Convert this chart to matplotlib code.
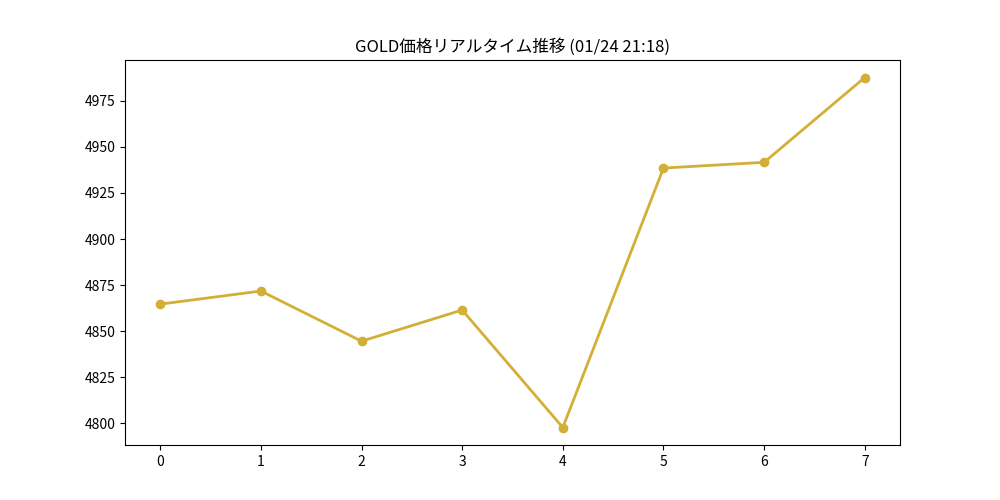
import matplotlib
matplotlib.use("Agg")
import matplotlib.pyplot as plt

plt.rcParams['font.family'] = ['Noto Sans CJK JP', 'DejaVu Sans']

# GOLD price samples
idx = [0, 1, 2, 3, 4, 5, 6, 7]
price = [4864.7, 4871.8, 4844.6, 4861.5, 4797.8, 4938.5, 4941.6, 4987.6]

plt.figure(figsize=(10, 5))
plt.plot(idx, price, marker='o', color='#D4AF37', linewidth=2)
plt.title("GOLD価格リアルタイム推移 (01/24 21:18)")
plt.savefig("out.png", dpi=100)
